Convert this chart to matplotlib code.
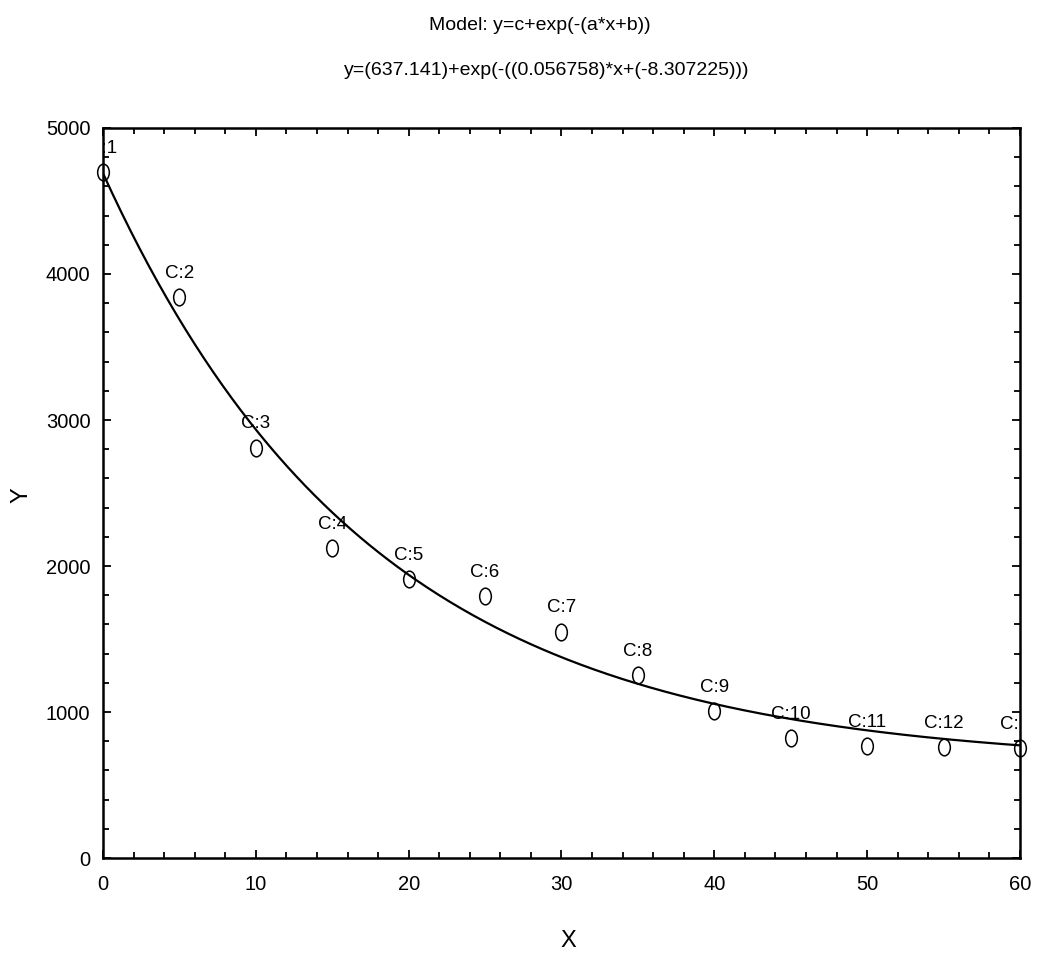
import matplotlib.pyplot as plt
import numpy as np
from matplotlib.path import Path
from matplotlib.transforms import Affine2D
from matplotlib.ticker import MultipleLocator

plt.rcParams['font.family'] = ['Liberation Sans', 'DejaVu Sans']

# observed cases
x_obs = [0, 5, 10, 15, 20, 25, 30, 35, 40, 45, 50, 55, 60]
y_obs = [4700, 3840, 2810, 2120, 1910, 1795, 1550, 1255, 1005, 820, 765, 760, 755]
case_labels = ["C:%d" % i for i in range(1, 14)]

# fitted model parameters (from the title)
a = 0.056758
b = -8.307225
c = 637.141

xs = np.linspace(0, 60, 400)
ys = c + np.exp(-(a * xs + b))

fig = plt.figure(figsize=(10.39, 9.63), dpi=100)
ax = fig.add_axes([0.0991, 0.1090, 0.8826, 0.7581])

ax.plot(xs, ys, color='black', lw=1.6, zorder=2)

# tall "O" shaped markers
oval = Path.unit_circle().transformed(Affine2D().scale(0.7, 1.0))
ax.plot(x_obs, y_obs, linestyle='none', marker=oval, markersize=12,
        markerfacecolor='none', markeredgecolor='black', markeredgewidth=1.1,
        clip_on=False, zorder=3)

for xi, yi, lab in zip(x_obs, y_obs, case_labels):
    ax.annotate(lab, (xi, yi), xytext=(0, 11), textcoords='offset points',
                ha='center', va='bottom', fontsize=13.5, clip_on=True)

ax.set_xlim(0, 60)
ax.set_ylim(0, 5000)
ax.xaxis.set_major_locator(MultipleLocator(10))
ax.xaxis.set_minor_locator(MultipleLocator(2))
ax.yaxis.set_major_locator(MultipleLocator(1000))
ax.yaxis.set_minor_locator(MultipleLocator(200))
ax.tick_params(which='both', direction='in', top=True, right=True, width=1.3)
ax.tick_params(which='major', length=6, labelsize=14.5)
ax.tick_params(axis='x', which='major', pad=12)
ax.tick_params(axis='y', which='major', pad=9)
ax.tick_params(which='minor', length=4)
for s in ax.spines.values():
    s.set_linewidth(1.8)

ax.set_xlabel('X', fontsize=17)
ax.set_ylabel('Y', fontsize=17)
ax.xaxis.set_label_coords(0.507, -0.099)
ax.yaxis.set_label_coords(-0.077, 0.497)

fig.text(0.52, 0.974, 'Model: y=c+exp(-(a*x+b))', ha='center', va='center', fontsize=14)
fig.text(0.526, 0.927, 'y=(637.141)+exp(-((0.056758)*x+(-8.307225)))',
         ha='center', va='center', fontsize=14)

fig.savefig('out.png', dpi=100)
